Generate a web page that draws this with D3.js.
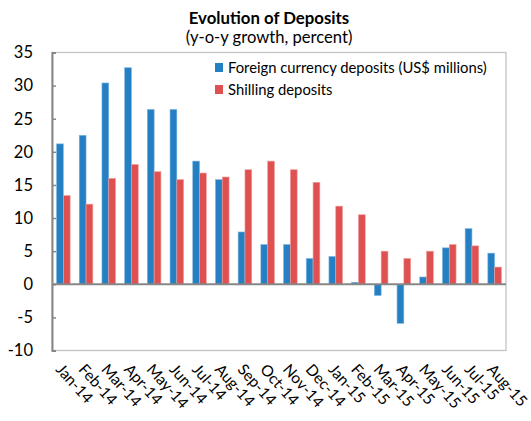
<!DOCTYPE html>
<html>
<head>
<meta charset="utf-8">
<script src="https://cdn.jsdelivr.net/npm/d3@7"></script>
<style>
  html, body { margin: 0; padding: 0; background: #fff; }
  svg { display: block; font-family: Lato, "Open Sans", sans-serif; }
</style>
</head>
<body>
<svg id="chart" width="531" height="421"></svg>
<script>
// Monthly categories
const months = ["Jan-14","Feb-14","Mar-14","Apr-14","May-14","Jun-14","Jul-14","Aug-14",
  "Sep-14","Oct-14","Nov-14","Dec-14","Jan-15","Feb-15","Mar-15","Apr-15","May-15",
  "Jun-15","Jul-15","Aug-15"];

// Year-on-year growth, percent
const foreignDeposits = [21.2, 22.5, 30.4, 32.7, 26.4, 26.4, 18.6, 15.8,
  7.9, 6.0, 6.0, 3.9, 4.2, 0.3, -1.7, -5.9, 1.1, 5.5, 8.4, 4.7];
const shillingDeposits = [13.4, 12.1, 16.0, 18.1, 17.0, 15.8, 16.8, 16.2,
  17.3, 18.6, 17.3, 15.4, 11.8, 10.5, 5.0, 3.9, 5.0, 6.0, 5.8, 2.6];

const seriesNames = ["Foreign currency deposits (US$ millions)", "Shilling deposits"];
const seriesColors = ["#2480c3", "#df5151"];
const seriesEdges = ["#7fb6e0", "#eea0a0"];
const yTicks = [-10, -5, 0, 5, 10, 15, 20, 25, 30, 35];

const svg = d3.select("#chart");
const plotLeft = 52, plotRight = 506, plotTop = 52.5, plotBottom = 350.5;

const x = d3.scaleBand().domain(months).range([plotLeft, plotRight])
  .paddingInner(0.4).paddingOuter(0.2);
const xs = d3.scaleBand().domain([0, 1]).range([0, x.bandwidth()]);
const y = d3.scaleLinear().domain([-10, 35]).range([plotBottom, plotTop]);

// Plot area frame
svg.append("rect")
  .attr("x", plotLeft).attr("y", plotTop)
  .attr("width", plotRight - plotLeft).attr("height", plotBottom - plotTop)
  .attr("fill", "none").attr("stroke", "#c4c4c4").attr("stroke-width", 1.3);

// Bars
const rows = months.map((m, i) => ({ m, vals: [foreignDeposits[i], shillingDeposits[i]] }));
const groups = svg.append("g").selectAll("g").data(rows).join("g")
  .attr("transform", d => `translate(${x(d.m)},0)`);
groups.selectAll("rect").data(d => d.vals.map((v, k) => ({ v, k }))).join("rect")
  .attr("x", d => xs(d.k))
  .attr("width", xs.bandwidth())
  .attr("y", d => y(Math.max(0, d.v)))
  .attr("height", d => Math.abs(y(d.v) - y(0)))
  .attr("fill", d => seriesColors[d.k])
  .attr("stroke", d => seriesEdges[d.k])
  .attr("stroke-width", 0.6);

// Zero line
svg.append("line")
  .attr("x1", plotLeft).attr("x2", plotRight)
  .attr("y1", y(0)).attr("y2", y(0))
  .attr("stroke", "#878787").attr("stroke-width", 2);

// Y axis (plain hyphen for negatives)
const yAxis = d3.axisLeft(y).tickValues(yTicks).tickSize(-4).tickPadding(19)
  .tickFormat(d => String(d));
const gy = svg.append("g").attr("transform", `translate(${plotLeft},0)`).call(yAxis);
gy.select(".domain").attr("stroke", "#878787").attr("stroke-width", 2);
gy.selectAll(".tick line").attr("stroke", "#878787").attr("stroke-width", 1.5);
gy.selectAll(".tick text").attr("font-size", 16.5).attr("fill", "#000")
  .attr("font-family", "Lato, sans-serif");

// X category labels, slanted
svg.append("g").selectAll("text").data(months).join("text")
  .attr("transform", d => `translate(${x(d) - 1.5},370) rotate(48)`)
  .attr("font-size", 15.5)
  .attr("fill", "#000")
  .text(d => d);

// Title
svg.append("text").attr("x", 269).attr("y", 24).attr("text-anchor", "middle")
  .attr("font-weight", "bold").attr("font-size", 16.8).text("Evolution of Deposits");
svg.append("text").attr("x", 269).attr("y", 43).attr("text-anchor", "middle")
  .attr("font-size", 16.6).text("(y-o-y growth, percent)");

// Legend
const legend = svg.append("g").selectAll("g").data(seriesNames).join("g")
  .attr("transform", (d, i) => `translate(215,${63 + i * 22})`);
legend.append("rect").attr("width", 8).attr("height", 9)
  .attr("fill", (d, i) => seriesColors[i]);
legend.append("text").attr("x", 13).attr("y", 9.5)
  .attr("font-size", 14.8).text(d => d);
</script>
</body>
</html>
